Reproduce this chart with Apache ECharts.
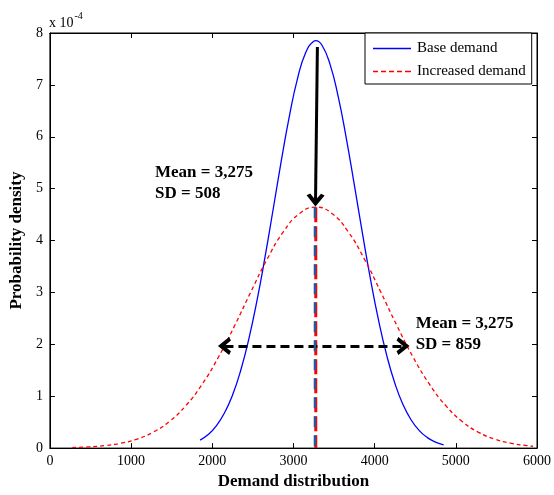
<!DOCTYPE html>
<html><head><meta charset="utf-8">
<script src="https://cdn.jsdelivr.net/npm/echarts@6/dist/echarts.min.js"></script>
<style>html,body{margin:0;padding:0;background:#fff}#c{width:554px;height:495px}</style>
</head><body><div id="c"></div>
<script>
// Base demand (mean 3,275, SD 508), y in units of 1e-4
const baseX = [1850,1950,2050,2150,2250,2350,2450,2550,2650,2750,2850,2950,3050,3150,3250,3275,3350,3450,3550,3650,3750,3850,3950,4050,4150,4250,4350,4450,4550,4650,4750,4850];
const baseY = [0.154,0.262,0.429,0.676,1.025,1.496,2.101,2.837,3.684,4.603,5.534,6.399,7.120,7.619,7.843,7.853,7.768,7.401,6.782,5.980,5.072,4.139,3.248,2.452,1.782,1.245,0.837,0.541,0.337,0.202,0.116,0.064];
// Increased demand (mean 3,275, SD 859)
const incX = [275,475,675,875,1075,1275,1475,1675,1875,2075,2275,2475,2675,2875,3075,3275,3475,3675,3875,4075,4275,4475,4675,4875,5075,5275,5475,5675,5875,5950];
const incY = [0.010,0.023,0.048,0.094,0.175,0.309,0.517,0.820,1.231,1.750,2.358,3.010,3.639,4.167,4.520,4.644,4.520,4.167,3.639,3.010,2.358,1.750,1.231,0.820,0.517,0.309,0.175,0.094,0.048,0.036];
const seriesNames = ['Base demand','Increased demand'];
const meanX = [3275, 3275];
const meanY = [4.644, 0];
const arrowDownFrom = [3295, 7.73];
const arrowDownTo = [3272, 4.78];
const arrowSpreadFrom = [2150, 1.97];
const arrowSpreadTo = [4350, 1.97];
const noteAt = [[1295, 5.10], [4505, 2.20]];
const noteText = [['Mean = 3,275', 'SD = 508'], ['Mean = 3,275', 'SD = 859']];
const xMin = 0, xMax = 6000, xStep = 1000;
const yMin = 0, yMax = 8, yStep = 1;

const FONT = 'Liberation Serif';
const zip = (xs, ys) => xs.map((x, i) => [x, ys[i]]);
const chevron = 'path://M0,12 L10,0 L20,12 L16,14 L10,7 L4,14 Z';
const solidIcon = 'path://M0,0 H38 V1.4 H0 Z';
const dashIcon = 'path://M0,0 h5 v1.4 h-5 Z M8,0 h5 v1.4 h-5 Z M16,0 h5 v1.4 h-5 Z M24,0 h5 v1.4 h-5 Z M32,0 h6 v1.4 h-6 Z';

const chart = echarts.init(document.getElementById('c'), null, {renderer: 'canvas'});
const axisCommon = {
  type: 'value', min: xMin, max: xMax, interval: xStep,
  axisLine: {show: true, onZero: false, lineStyle: {color: '#000', width: 1}},
  axisTick: {show: true, inside: true, length: 5, lineStyle: {color: '#000'}},
  splitLine: {show: false}
};
chart.setOption({
  animation: false,
  backgroundColor: '#fff',
  textStyle: {fontFamily: FONT},
  grid: {left: 47, right: 17, top: 33, bottom: 42, show: true, borderColor: '#000', borderWidth: 1},
  xAxis: [
    Object.assign({}, axisCommon, {
      position: 'bottom',
      axisLabel: {color: '#000', fontFamily: FONT, fontSize: 14, margin: 6, formatter: v => String(v)},
      name: 'Demand distribution', nameLocation: 'middle', nameGap: 22,
      nameTextStyle: {color: '#000', fontFamily: FONT, fontSize: 17, fontWeight: 'bold'}
    }),
    Object.assign({}, axisCommon, {position: 'top', axisLabel: {show: false}})
  ],
  yAxis: [
    Object.assign({}, axisCommon, {
      min: yMin, max: yMax, interval: yStep, position: 'left',
      axisLabel: {color: '#000', fontFamily: FONT, fontSize: 14, margin: 7, formatter: v => String(v)},
      name: 'Probability density', nameLocation: 'middle', nameGap: 13, nameRotate: 90,
      nameTextStyle: {color: '#000', fontFamily: FONT, fontSize: 17, fontWeight: 'bold'}
    }),
    Object.assign({}, axisCommon, {min: yMin, max: yMax, interval: yStep, position: 'right', axisLabel: {show: false}})
  ],
  legend: {
    data: [
      {name: seriesNames[0], icon: solidIcon, itemStyle: {color: '#0000ff'}},
      {name: seriesNames[1], icon: dashIcon, itemStyle: {color: '#ff0000'}}
    ],
    orient: 'vertical', left: 365, top: 33,
    backgroundColor: '#fff', borderColor: '#000', borderWidth: 1,
    padding: [8, 6, 5, 8], itemGap: 8, itemWidth: 38, itemHeight: 1.4,
    textStyle: {color: '#000', fontFamily: FONT, fontSize: 15, padding: [0, 0, 0, 1]}
  },
  graphic: [{
    type: 'text', left: 49, top: 11,
    style: {
      text: 'x 10{s|-4}', fill: '#000',
      font: '14px "Liberation Serif"',
      rich: {s: {fontSize: 10, fontFamily: FONT, verticalAlign: 'top', padding: [0, 0, 14, 1]}}
    }
  }],
  series: [
    {
      name: seriesNames[0], type: 'line', data: zip(baseX, baseY), smooth: true,
      symbol: 'none', lineStyle: {color: '#0000ff', width: 1.3}, itemStyle: {color: '#0000ff'}, z: 3
    },
    {
      name: seriesNames[1], type: 'line', data: zip(incX, incY), smooth: true,
      symbol: 'none', lineStyle: {color: '#ff0000', width: 1.3, type: [4, 3]}, itemStyle: {color: '#ff0000'}, z: 3
    },
    {
      name: 'meanRed', type: 'line', data: zip(meanX, meanY), symbol: 'none',
      lineStyle: {color: '#ff0000', width: 3, type: [15, 4]}, z: 4
    },
    {
      name: 'meanBlue', type: 'line', data: zip(meanX.map(x => x - 10), meanY), symbol: 'none',
      lineStyle: {color: '#2b5797', width: 2.5, type: [11, 8], dashOffset: 0}, z: 5
    },
    {
      name: 'arrows', type: 'line', data: [], symbol: 'none', z: 6,
      markLine: {
        silent: true, animation: false,
        label: {show: false},
        emphasis: {disabled: true},
        data: [
          [{coord: arrowDownFrom, symbol: 'none'},
           {coord: arrowDownTo, symbol: chevron, symbolSize: [18, 13]}],
          [{coord: arrowSpreadFrom, symbol: chevron, symbolSize: [18, 13], lineStyle: {type: [9, 5]}},
           {coord: arrowSpreadTo, symbol: chevron, symbolSize: [18, 13], lineStyle: {type: [9, 5]}}]
        ],
        lineStyle: {color: '#000', width: 3, type: 'solid', opacity: 1},
        itemStyle: {color: '#000'}
      }
    },
    {
      name: 'notes', type: 'scatter', symbolSize: 0, silent: true, z: 7,
      itemStyle: {opacity: 1},
      data: noteAt.map((c, i) => ({value: c, note: noteText[i].join('\n')})),
      label: {
        show: true, position: 'right', distance: 0, align: 'left', verticalAlign: 'middle',
        color: '#000', opacity: 1, fontFamily: FONT, fontSize: 17, fontWeight: 'bold', lineHeight: 21,
        formatter: p => p.data.note
      }
    }
  ]
});
</script></body></html>
